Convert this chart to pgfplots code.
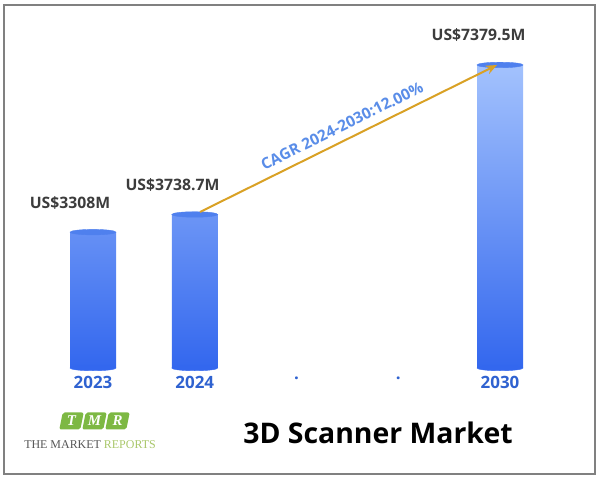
\documentclass[border=0pt]{standalone}
\usepackage{pgfplots}
\pgfplotsset{compat=1.18}
\usepackage{fontspec}
\setmainfont{Open Sans}
\newfontfamily\logofont{Liberation Serif}
\usetikzlibrary{arrows.meta}
\definecolor{bartop}{HTML}{A3C2FD}
\definecolor{barbot}{HTML}{3367EE}
\definecolor{captop}{HTML}{4F80EE}
\definecolor{ticklab}{HTML}{2F62D0}
\definecolor{vallab}{HTML}{3C3C3C}
\definecolor{arrowc}{HTML}{D9A125}
\definecolor{cagrc}{HTML}{5A8DE8}
\definecolor{tmrgreen}{HTML}{7DB843}
\definecolor{repgreen}{HTML}{A9C76A}
\definecolor{logogray}{HTML}{555555}
\definecolor{framec}{HTML}{808080}
\begin{document}
\begin{tikzpicture}[x=1bp,y=1bp]
\path[use as bounding box] (0,0) rectangle (600,480);
\draw[framec, line width=1.5bp] (4,6) rectangle (595,475);
\begin{axis}[
  at={(93bp,112bp)}, anchor=origin,
  scale only axis, width=569.8bp, height=328.5bp,
  xmin=-0.8, xmax=4.8, ymin=0, ymax=8000, clip=false,
  hide y axis, axis x line*=bottom, x axis line style={draw=none},
  xtick={0,1,2,3,4}, xticklabels={2023,2024,.,.,2030},
  major tick length=0pt,
  xticklabel style={font=\fontsize{17}{20}\selectfont\bfseries, text=ticklab, yshift=-5bp},
  /pgf/number format/assume math mode=true,
]
\addplot[barbot, only marks, mark=*, mark size=23bp, mark options={yscale=0.12, fill=barbot, draw=barbot}] coordinates {(0,0) (1,0) (4,0)};
\addplot[ybar, bar width=46bp, draw=none, top color=bartop, bottom color=barbot] coordinates {(0,3308) (1,3738.7) (4,7379.5)};
\addplot[captop, only marks, mark=*, mark size=23bp, mark options={yscale=0.12, fill=captop, draw=captop}] coordinates {(0,3308) (1,3738.7) (4,7379.5)};
\end{axis}
\node[text=vallab, font=\fontsize{15.8}{18}\selectfont\bfseries] at (70,277) {US\$3308M};
\node[text=vallab, font=\fontsize{15.8}{18}\selectfont\bfseries] at (172.5,295) {US\$3738.7M};
\node[text=vallab, font=\fontsize{15.8}{18}\selectfont\bfseries] at (478.5,445) {US\$7379.5M};
\draw[arrowc, line width=2bp, -{Stealth[length=11bp,width=9bp]}] (200,268) -- (497,415);
\node[text=cagrc, font=\fontsize{15.5}{18}\selectfont\bfseries, rotate=26.5] at (342,354) {CAGR 2024-2030:12.00\%};
\node[font=\fontsize{28.5}{32}\selectfont\bfseries] at (378,47) {3D Scanner Market};
\begin{scope}[shift={(0,59)}, xslant=0.2]
\foreach \xa/\l in {61/T,84/M,107/R}{
  \fill[tmrgreen, rounded corners=2bp] (\xa,-8.5) rectangle ++(21,17);
  \node[text=white, font=\logofont\fontsize{15}{17}\selectfont\bfseries\itshape] at (\xa+10.5,0) {\l};
}
\end{scope}
\node[font=\logofont\fontsize{12}{14}\selectfont] at (90,35) {\textcolor{logogray}{THE MARKET} \textcolor{repgreen}{REPORTS}};
\end{tikzpicture}
\end{document}
